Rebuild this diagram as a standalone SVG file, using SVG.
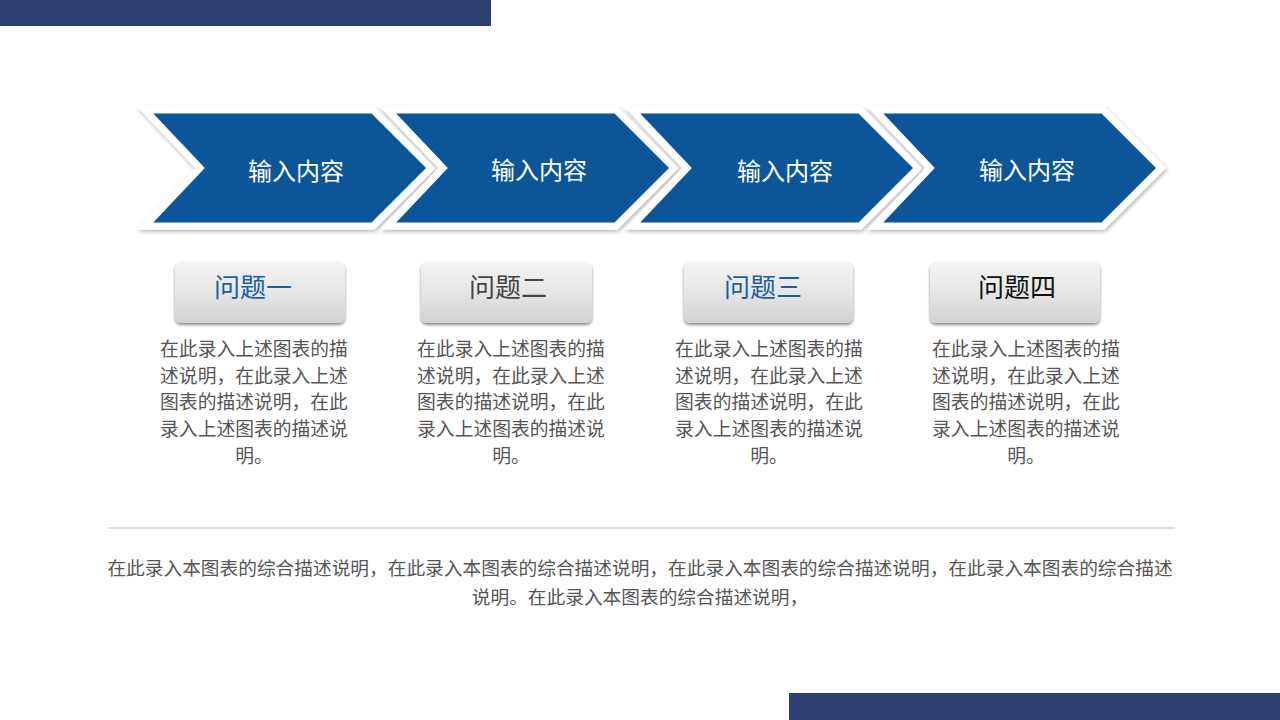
<svg xmlns="http://www.w3.org/2000/svg" width="1280" height="720" viewBox="0 0 1280 720">
<defs>
  <style>
    .chev { fill: #0a5599; stroke: #ffffff; stroke-width: 7; stroke-linejoin: miter; filter: url(#sh); }
    .ctext { font-family: "Noto Sans CJK SC", "Liberation Sans", sans-serif; font-size: 24px; fill: #ffffff; text-anchor: middle; }
    .btn { fill: url(#bg); filter: url(#bsh); }
    .btext { font-family: "Noto Sans CJK SC", "Liberation Sans", sans-serif; font-size: 26px; text-anchor: middle; }
    .desc { font-family: "Noto Sans CJK SC", "Liberation Sans", sans-serif; font-size: 18.8px; fill: #555555; text-anchor: middle; }
    .sum { font-family: "Noto Sans CJK SC", "Liberation Sans", sans-serif; font-size: 18.7px; fill: #555555; text-anchor: middle; }
  </style>
  <linearGradient id="bg" x1="0" y1="0" x2="0" y2="1">
    <stop offset="0" stop-color="#f3f3f3"/>
    <stop offset="0.5" stop-color="#e6e6e6"/>
    <stop offset="1" stop-color="#d2d2d2"/>
  </linearGradient>
  <filter id="sh" x="-10%" y="-20%" width="120%" height="140%">
    <feDropShadow dx="1" dy="2" stdDeviation="2" flood-color="#000000" flood-opacity="0.3"/>
  </filter>
  <filter id="bsh" x="-10%" y="-20%" width="120%" height="150%">
    <feDropShadow dx="0" dy="2" stdDeviation="1.5" flood-color="#000000" flood-opacity="0.45"/>
  </filter>
</defs>
<rect x="0" y="0" width="491" height="26" fill="#2e4071"/>
<rect x="789" y="693" width="491" height="27" fill="#2e4071"/>

<g id="chevron1">
  <polygon class="chev" points="145,110 373,110 431,168 373,226 145,226 200,168"/>
  <text class="ctext" x="296" y="180">输入内容</text>
</g>
<g id="chevron2">
  <polygon class="chev" points="388,110 616,110 674,168 616,226 388,226 443,168"/>
  <text class="ctext" x="539" y="179">输入内容</text>
</g>
<g id="chevron3">
  <polygon class="chev" points="632,110 860,110 918,168 860,226 632,226 687,168"/>
  <text class="ctext" x="785" y="180">输入内容</text>
</g>
<g id="chevron4">
  <polygon class="chev" points="875,110 1103,110 1161,168 1103,226 875,226 930,168"/>
  <text class="ctext" x="1027" y="179">输入内容</text>
</g>

<g id="card1">
  <rect class="btn" x="175" y="262" width="170" height="61" rx="6"/>
  <text class="btext" x="253" y="297" fill="#1b5f9f">问题一</text>
  <text class="desc" x="254"><tspan x="254" y="356">在此录入上述图表的描</tspan><tspan x="254" y="383">述说明，在此录入上述</tspan><tspan x="254" y="409">图表的描述说明，在此</tspan><tspan x="254" y="436">录入上述图表的描述说</tspan><tspan x="254" y="463">明。</tspan></text>
</g>
<g id="card2">
  <rect class="btn" x="421" y="262" width="171" height="61" rx="6"/>
  <text class="btext" x="508" y="297" fill="#444444">问题二</text>
  <text class="desc" x="511"><tspan x="511" y="356">在此录入上述图表的描</tspan><tspan x="511" y="383">述说明，在此录入上述</tspan><tspan x="511" y="409">图表的描述说明，在此</tspan><tspan x="511" y="436">录入上述图表的描述说</tspan><tspan x="511" y="463">明。</tspan></text>
</g>
<g id="card3">
  <rect class="btn" x="684" y="262" width="169" height="61" rx="6"/>
  <text class="btext" x="763" y="297" fill="#1b5f9f">问题三</text>
  <text class="desc" x="769"><tspan x="769" y="356">在此录入上述图表的描</tspan><tspan x="769" y="383">述说明，在此录入上述</tspan><tspan x="769" y="409">图表的描述说明，在此</tspan><tspan x="769" y="436">录入上述图表的描述说</tspan><tspan x="769" y="463">明。</tspan></text>
</g>
<g id="card4">
  <rect class="btn" x="930" y="262" width="170" height="61" rx="6"/>
  <text class="btext" x="1017" y="297" fill="#111111">问题四</text>
  <text class="desc" x="1026"><tspan x="1026" y="356">在此录入上述图表的描</tspan><tspan x="1026" y="383">述说明，在此录入上述</tspan><tspan x="1026" y="409">图表的描述说明，在此</tspan><tspan x="1026" y="436">录入上述图表的描述说</tspan><tspan x="1026" y="463">明。</tspan></text>
</g>

<g id="summary">
  <line x1="108" y1="528" x2="1175" y2="528" stroke="#bbbbbb" stroke-width="1"/>
  <text class="sum" x="640" y="575">在此录入本图表的综合描述说明，在此录入本图表的综合描述说明，在此录入本图表的综合描述说明，在此录入本图表的综合描述</text>
  <text class="sum" x="640" y="604">说明。在此录入本图表的综合描述说明，</text>
</g>
</svg>
